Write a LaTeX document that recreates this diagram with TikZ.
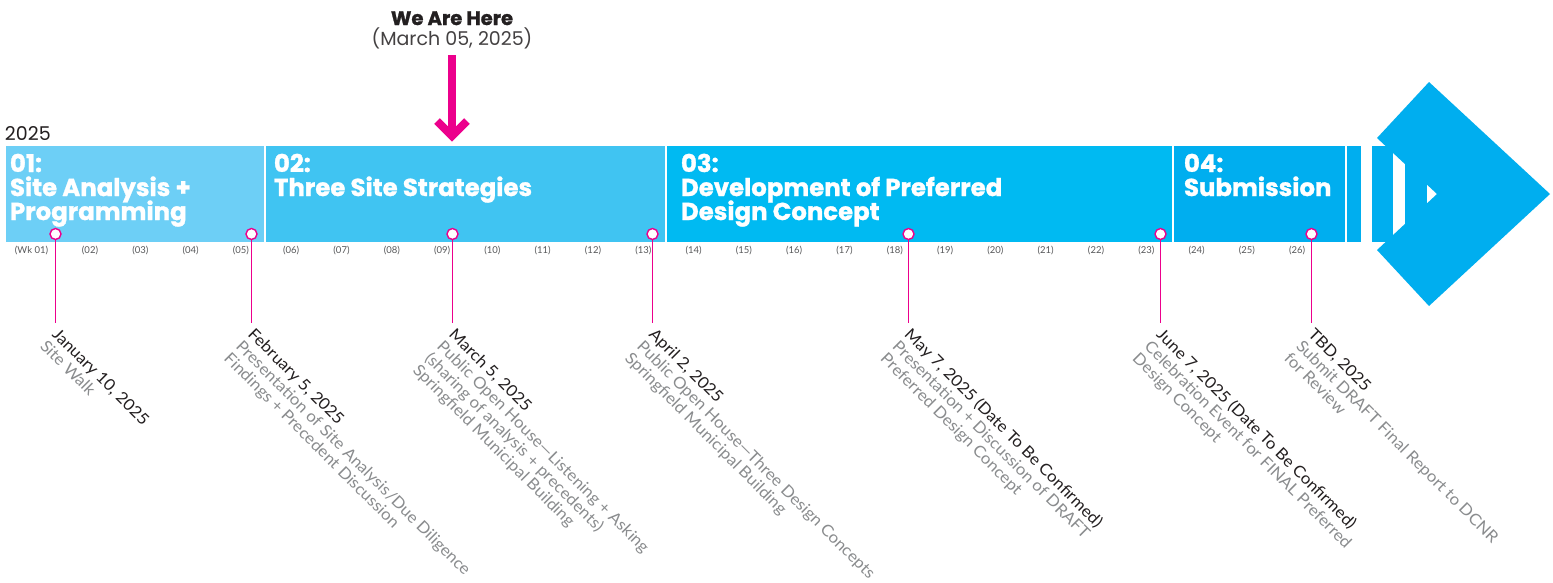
\documentclass[tikz,border=0pt]{standalone}
\usepackage{fontspec}
\setmainfont{Lato}
\newfontfamily\headfont{Poppins}[BoldFeatures={FakeBold=1.2}]
\newfontfamily\bodyfont{Lato}[FakeStretch=1.06]
\newfontfamily\weekfont{Lato}
\definecolor{segA}{HTML}{6DCFF6}
\definecolor{segB}{HTML}{40C4F2}
\definecolor{segC}{HTML}{00BAF2}
\definecolor{segD}{HTML}{00AEEF}
\definecolor{pinkc}{HTML}{EC008C}
\definecolor{datec}{HTML}{231F20}
\definecolor{descc}{HTML}{8A8C8E}
\definecolor{weekc}{HTML}{58595B}
\tikzset{
  headtxt/.style={anchor=base west, text=white, font=\headfont\bfseries\fontsize{24.4}{24}\selectfont},
  weeklbl/.style={anchor=base, text=weekc, font=\weekfont\fontsize{9.5}{10}\selectfont},
  mstone/.style={circle, draw=pinkc, fill=white, line width=1.4pt, minimum size=11pt},
  stem/.style={draw=pinkc, line width=1.2pt},
  evtxt/.style={anchor=north west, rotate=-45, align=left, text=descc, font=\bodyfont\fontsize{16}{17}\selectfont},
}
\begin{document}
\begin{tikzpicture}[x=1pt,y=-1pt, every node/.append style={inner sep=0pt, outer sep=0pt}]
\useasboundingbox (0,0) rectangle (1553,582);
\fill[white] (0,0) rectangle (1553,582);
% band
\fill[segA] (6,146) rectangle (264,242);
\fill[segB] (266,146) rectangle (664.5,242);
\fill[segC] (666.5,146) rectangle (1172,242);
\fill[segD] (1174,146) rectangle (1345,242);
\fill[segD] (1347,146) rectangle (1361,242);
\fill[segD] (1372,146) rectangle (1393,242);
\fill[segD] (1405,146) rectangle (1427,242);
\fill[segD] (1429,82) -- (1550,194) -- (1429,306) -- (1377,250) -- (1437,194) -- (1377,138) -- cycle;
% year
\node[anchor=base west, text=datec, font=\headfont\fontsize{19}{20}\selectfont] (year) at (5,140) {2025};
% we are here
\node[anchor=base, text=datec, font=\headfont\bfseries\fontsize{19.5}{20}\selectfont] (weh) at (452,25) {We Are Here};
\node[anchor=base, text=datec!85, font=\headfont\fontsize{19}{20}\selectfont] (wehd) at (452,45) {(March 05, 2025)};
\coordinate (arrtop) at (452,55);
\coordinate (arrtip) at (452,136);
\draw[pinkc, line width=8pt] (arrtop) -- ([yshift=5pt]arrtip);
\draw[pinkc, line width=8pt, miter limit=10] ([xshift=-15pt,yshift=15pt]arrtip) -- (arrtip) -- ([xshift=15pt,yshift=15pt]arrtip);
% headings
\node[headtxt] (h1a) at (10,172) {01:};
\node[headtxt] (h1b) at (10,196) {Site Analysis +};
\node[headtxt] (h1c) at (10,220) {Programming};
\node[headtxt] (h2a) at (274,172) {02:};
\node[headtxt] (h2b) at (274,196) {Three Site Strategies};
\node[headtxt] (h3a) at (681,172) {03:};
\node[headtxt] (h3b) at (681,196) {Development of Preferred};
\node[headtxt] (h3c) at (681,220) {Design Concept};
\node[headtxt] (h4a) at (1184,172) {04:};
\node[headtxt] (h4b) at (1184,196) {Submission};
% weeks
\node[weeklbl] (w1) at (31.5,253) {(Wk 01)};
\foreach \n [evaluate=\n as \xx using {90+(\n-2)*50.3}] in {2,...,26}{
  \node[weeklbl] (w\n) at (\xx,253) {(\ifnum\n<10 0\fi\n)};
}
% milestones
\foreach \i/\xx in {1/55.5,2/251.5,3/452.5,4/652.5,5/908.5,6/1160.5,7/1311.5}{
  \coordinate (e\i) at (\xx,323);
  \node[mstone] (m\i) at (\xx,234) {};
  \draw[stem] (m\i.south) -- (e\i);
}
% event texts
\node[evtxt] (t1) at ([xshift=4pt,yshift=-4pt]e1) {{\color{datec}January 10, 2025}\\Site Walk};
\node[evtxt] (t2) at ([xshift=4pt,yshift=-4pt]e2) {{\color{datec}February 5, 2025}\\Presentation of Site Analysis/Due Diligence\\Findings + Precedent Discussion};
\node[evtxt] (t3) at ([xshift=4pt,yshift=-4pt]e3) {{\color{datec}March 5, 2025}\\Public Open House—Listening + Asking\\(sharing of analysis + precedents)\\Springfield Municipal Building};
\node[evtxt] (t4) at ([xshift=4pt,yshift=-4pt]e4) {{\color{datec}April 2, 2025}\\Public Open House—Three Design Concepts\\Springfield Municipal Building};
\node[evtxt] (t5) at ([xshift=4pt,yshift=-4pt]e5) {{\color{datec}May 7, 2025 (Date To Be Confirmed)}\\Presentation + Discussion of DRAFT\\Preferred Design Concept};
\node[evtxt] (t6) at ([xshift=4pt,yshift=-4pt]e6) {{\color{datec}June 7, 2025 (Date To Be Confirmed)}\\Celebration Event for FINAL Preferred\\Design Concept};
\node[evtxt] (t7) at ([xshift=4pt,yshift=-4pt]e7) {{\color{datec}TBD, 2025}\\Submit DRAFT Final Report to DCNR\\for Review};
\end{tikzpicture}
\end{document}
